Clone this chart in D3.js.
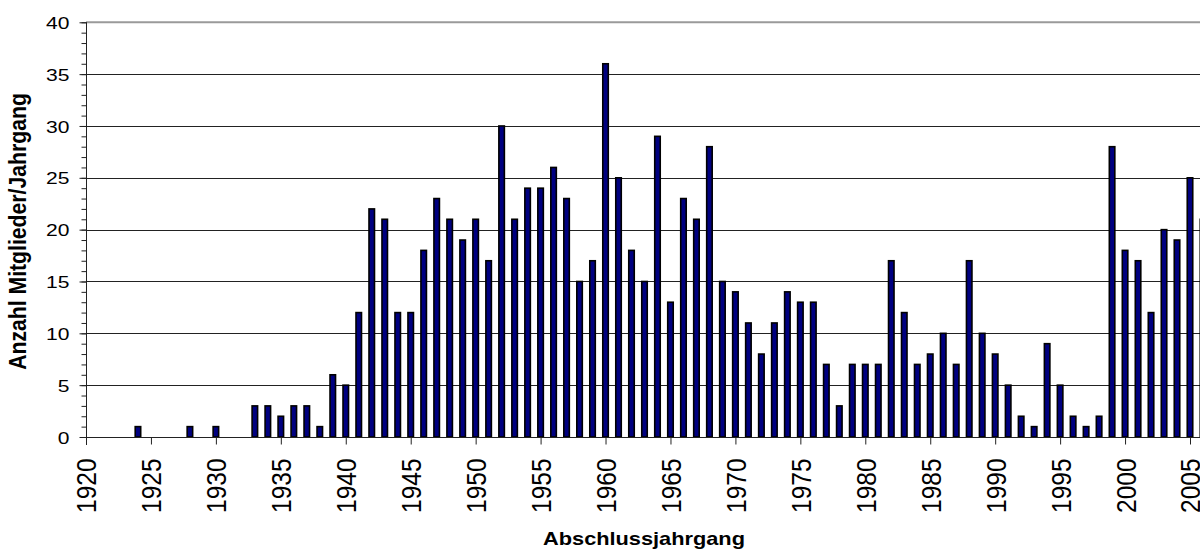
<!DOCTYPE html>
<html>
<head>
<meta charset="utf-8">
<script src="https://cdn.jsdelivr.net/npm/d3@7"></script>
<style>
  html, body { margin: 0; padding: 0; background: #fff; }
  svg { display: block; font-family: "Liberation Sans", Arial, sans-serif; }
</style>
</head>
<body>
<svg id="chart" width="1200" height="552"></svg>
<script>
// ---- data ----
const years = [1924, 1928, 1930, 1933, 1934, 1935, 1936, 1937, 1938, 1939,
  1940, 1941, 1942, 1943, 1944, 1945, 1946, 1947, 1948, 1949,
  1950, 1951, 1952, 1953, 1954, 1955, 1956, 1957, 1958, 1959,
  1960, 1961, 1962, 1963, 1964, 1965, 1966, 1967, 1968, 1969,
  1970, 1971, 1972, 1973, 1974, 1975, 1976, 1977, 1978, 1979,
  1980, 1981, 1982, 1983, 1984, 1985, 1986, 1987, 1988, 1989,
  1990, 1991, 1992, 1993, 1994, 1995, 1996, 1997, 1998, 1999,
  2000, 2001, 2002, 2003, 2004, 2005, 2006];
const members = [1, 1, 1, 3, 3, 2, 3, 3, 1, 6,
  5, 12, 22, 21, 12, 12, 18, 23, 21, 19,
  21, 17, 30, 21, 24, 24, 26, 23, 15, 17,
  36, 25, 18, 15, 29, 13, 23, 21, 28, 15,
  14, 11, 8, 11, 14, 13, 13, 7, 3, 7,
  7, 7, 17, 12, 7, 8, 10, 7, 17, 10,
  8, 5, 2, 1, 9, 5, 2, 1, 2, 28,
  18, 17, 12, 20, 19, 25, 21];
const xTickYears = [1920, 1925, 1930, 1935, 1940, 1945, 1950, 1955, 1960, 1965,
  1970, 1975, 1980, 1985, 1990, 1995, 2000, 2005];
const yTickValues = [0, 5, 10, 15, 20, 25, 30, 35, 40];
const yTitle = "Anzahl Mitglieder/Jahrgang";
const xTitle = "Abschlussjahrgang";

const data = years.map((yr, i) => ({ year: yr, value: members[i] }));

// ---- layout ----
const svg = d3.select("#chart");
const plotLeft = 86, plotRight = 1200, plotTop = 22.3, plotBottom = 437;

const x = d3.scaleLinear().domain([1920, 2005]).range([plotLeft, 1190]);
const y = d3.scaleLinear().domain([0, 40]).range([plotBottom, plotTop]);

// gridlines (5..35)
svg.append("g").selectAll("line")
  .data(yTickValues.filter(v => v > 0 && v < 40))
  .join("line")
  .attr("x1", plotLeft).attr("x2", plotRight)
  .attr("y1", d => Math.round(y(d)) + 0.5).attr("y2", d => Math.round(y(d)) + 0.5)
  .attr("stroke", "#222").attr("stroke-width", 1);

// top border of plot area
svg.append("line")
  .attr("x1", plotLeft).attr("x2", plotRight)
  .attr("y1", y(40)).attr("y2", y(40))
  .attr("stroke", "#9a9a9a").attr("stroke-width", 2);

// bars
const barW = 5.5;
svg.append("g").selectAll("rect")
  .data(data)
  .join("rect")
  .attr("x", d => x(d.year) - barW / 2)
  .attr("y", d => y(d.value))
  .attr("width", barW)
  .attr("height", d => y(0) - y(d.value))
  .attr("fill", "#000080")
  .attr("stroke", "#000")
  .attr("stroke-width", 1.6);

// y axis: minor ticks
const yAxisMinor = d3.axisLeft(y).tickValues(d3.range(0, 41, 1)).tickSize(5).tickFormat("");
const gyMinor = svg.append("g").attr("transform", `translate(${plotLeft + 0.5},0)`).call(yAxisMinor);
gyMinor.select(".domain").remove();
gyMinor.selectAll("line").attr("stroke", "#222");

// y axis: major ticks and labels
const yAxis = d3.axisLeft(y).tickValues(yTickValues).tickSize(7).tickPadding(10).tickFormat(d3.format("d"));
const gy = svg.append("g").attr("transform", `translate(${plotLeft + 0.5},0)`).call(yAxis);
gy.select(".domain").attr("stroke", "#222").attr("d", `M0,${plotTop}V${plotBottom + 8}`);
gy.selectAll("line").attr("stroke", "#222");
gy.selectAll(".tick text")
  .attr("font-size", 17)
  .attr("font-family", "Liberation Sans, Arial, sans-serif")
  .attr("fill", "#000")
  .attr("dy", "0.36em")
  .each(function () {
    const t = d3.select(this);
    const xx = +t.attr("x");
    t.attr("transform", `translate(${xx},0) scale(1.24,1) translate(${-xx},0)`);
  });

// x axis
const xAxis = d3.axisBottom(x).tickValues(xTickYears).tickSize(7).tickFormat(d3.format("d"));
const gx = svg.append("g").attr("transform", `translate(0,${plotBottom + 0.5})`).call(xAxis);
gx.select(".domain").attr("stroke", "#222").attr("d", `M${plotLeft},0H${plotRight}`);
gx.selectAll("line").attr("stroke", "#222");
gx.selectAll(".tick text")
  .attr("font-size", 24.5)
  .attr("font-family", "Liberation Sans, Arial, sans-serif")
  .attr("fill", "#000")
  .attr("text-anchor", "end")
  .attr("x", 0).attr("y", 0).attr("dy", "0.36em")
  .attr("transform", "translate(0,21) scale(1.13,1) rotate(-90)");

// axis titles
svg.append("text")
  .attr("transform", `translate(26,231.5) scale(1.17,1) rotate(-90)`)
  .attr("text-anchor", "middle")
  .attr("font-size", 21.2)
  .attr("font-weight", "bold")
  .attr("fill", "#000")
  .text(yTitle);

svg.append("text")
  .attr("transform", `translate(644,545) scale(1.17,1)`)
  .attr("text-anchor", "middle")
  .attr("font-size", 18.6)
  .attr("font-weight", "bold")
  .attr("fill", "#000")
  .text(xTitle);
</script>
</body>
</html>
